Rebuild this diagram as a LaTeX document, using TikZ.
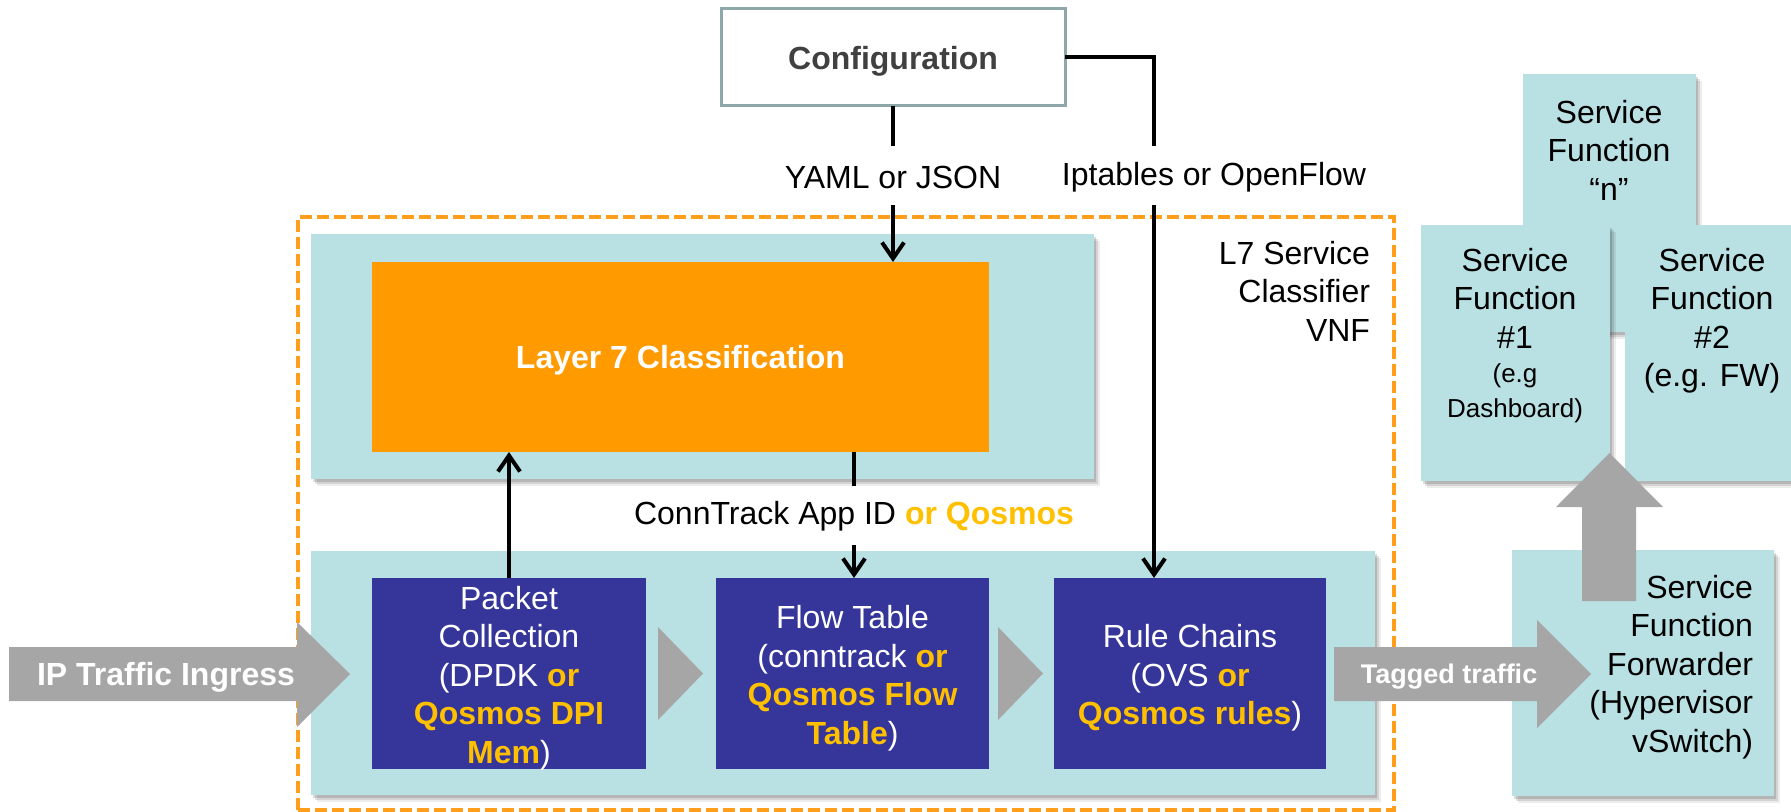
\documentclass[tikz,border=0pt]{standalone}
\usepackage{fontspec}
\setmainfont{Liberation Sans}
\usetikzlibrary{arrows.meta,fit,shadows}
\definecolor{teal1}{HTML}{B9E0E3}
\definecolor{navy1}{HTML}{35359A}
\definecolor{org1}{HTML}{FF9A00}
\definecolor{qy}{HTML}{FFC000}
\definecolor{gr1}{HTML}{A6A6A6}
\definecolor{cfgb}{HTML}{8EA8AA}
\definecolor{txt1}{HTML}{404040}
\definecolor{dash1}{HTML}{FF9E1B}
\newcommand\fmain{\fontsize{16}{19.25}\selectfont}
\newcommand\fsm{\fontsize{13}{16}\selectfont}
\newcommand\qb[1]{\textcolor{qy}{\bfseries #1}}
\begin{document}
\begin{tikzpicture}[x=0.5pt,y=-0.5pt,
  every node/.style={font=\fmain, inner sep=0pt, outer sep=0pt},
  tealbox/.style={fill=teal1,
    drop shadow={shadow xshift=1.2pt,shadow yshift=-1.5pt,opacity=.14,fill=black},
    drop shadow={shadow xshift=2.2pt,shadow yshift=-2.6pt,opacity=.11,fill=black},
    drop shadow={shadow xshift=3.2pt,shadow yshift=-3.6pt,opacity=.07,fill=black}},
  navybox/.style={fill=navy1},
  navytext/.style={text=white, align=center, yshift=-2.3pt},
  lbl/.style={fill=white},
  conn/.style={line width=2pt, black},
  arr/.style={conn, -{Straight Barb[length=8pt,width=11pt]}},
  blk/.style={fill=gr1},
  wlbl/.style={text=white, font=\fmain\bfseries},
]
\useasboundingbox (0,0) rectangle (1791,812);

% VNF dashed frame
\node[draw=dash1, line width=2pt, dash pattern=on 6pt off 2.5pt, fit={(298,217) (1394,810)}] (vnf) {};

% configuration
\node[draw=cfgb, line width=1.5pt, fill=white, fit={(721,9) (1065,106)}] (cfg) {};
\node[text=txt1, font=\fmain\bfseries] (cfgt) at ([yshift=-2pt]cfg.center) {Configuration};

% upper block
\node[tealbox, fit={(311,234) (1094,479)}] (l7box) {};
\node[fill=org1, fit={(372,262) (989,452)}] (l7) {};
\node[text=white, font=\fmain\bfseries] (l7t) at ([yshift=-1.5pt]l7.center) {Layer 7 Classification};

% lower block
\node[tealbox, fit={(311,551) (1375,795)}] (dp) {};
\node[navybox, fit={(372,578) (646,769)}] (pc) {};
\node[navytext] (pct) at (pc.center) {Packet\\Collection\\(DPDK \qb{or}\\\qb{Qosmos DPI}\\\qb{Mem})};
\node[navybox, fit={(716,578) (989,769)}] (ft) {};
\node[navytext] (ftt) at (ft.center) {Flow Table\\(conntrack \qb{or}\\\qb{Qosmos Flow}\\\qb{Table})};
\node[navybox, fit={(1054,578) (1326,769)}] (rc) {};
\node[navytext] (rct) at (rc.center) {Rule Chains\\(OVS \qb{or}\\\qb{Qosmos rules})};

% labels
\node[lbl, fit={(780,146) (1006,205)}] (yaml) {};
\node (yamlt) at ([yshift=-1pt]yaml.center) {YAML or JSON};
\node[lbl, fit={(1058,146) (1370,205)}] (ipt) {};
\node (iptt) at ([yshift=-1pt]ipt.center) {Iptables or OpenFlow};
\node[lbl, fit={(612,486) (1096,545)}] (ct) {};
\node (ctt) at ([yshift=-0.5pt]ct.center) {ConnTrack App ID \qb{or Qosmos}};
\node[align=right, anchor=east] (vnfl) at (1370,291) {L7 Service\\Classifier\\VNF};

% service functions
\node[tealbox, fit={(1523,74) (1696,332)}] (sfn) {};
\node[align=center] (sfnt) at (1609,150) {Service\\Function\\“n”};
\node[tealbox, fit={(1421,225) (1610,481)}] (sf1) {};
\node[align=center, anchor=north] (sf1t) at (1515,248) {Service\\Function\\\#1\\[-2pt]{\fsm (e.g}\\[-2pt]{\fsm Dashboard)}};
\node[tealbox, fit={(1625,225) (1800,481)}] (sf2) {};
\node[align=center, anchor=north] (sf2t) at (1712,248) {Service\\Function\\\#2\\(e.g. FW)};
\node[tealbox, fit={(1512,550) (1774,796)}] (sff) {};
\node[align=right, anchor=east] (sfft) at (1753,667) {Service\\Function\\Forwarder\\(Hypervisor\\vSwitch)};

% connectors
\coordinate (ipturn) at (1154,57.5);
\draw[conn] (cfg.south) -- (yaml.north -| cfg.south);
\draw[arr] (yaml.south -| cfg.south) -- (l7.north -| cfg.south);
\draw[conn] (cfg.east) -- (ipturn) -- (ipturn |- ipt.north);
\draw[arr] (ipturn |- ipt.south) -- (ipturn |- rc.north);
\draw[conn] (ct.north |- l7.south) -- (ct.north);
\draw[arr] (ct.south) -- (ct.south |- ft.north);
\draw[arr] (pc.north) -- (pc.north |- l7.south);

% block arrows
\fill[blk] (9,647) -- (297,647) -- (297,622) -- (350,674) -- (297,727) -- (297,701) -- (9,701) -- cycle;
\node[wlbl] (ingress) at (166,677) {IP Traffic Ingress};
\fill[blk] (658,627) -- (703,673.5) -- (658,720) -- cycle;
\fill[blk] (998,627) -- (1043,673.5) -- (998,720) -- cycle;
\fill[blk] (1334,647) -- (1537,647) -- (1537,620) -- (1591,674) -- (1537,728) -- (1537,701) -- (1334,701) -- cycle;
\node[text=white, font=\fontsize{13.5}{16}\selectfont\bfseries] (tagged) at (1449,677) {Tagged traffic};
\fill[blk] (1582,601) -- (1582,507) -- (1556,507) -- (1609.5,453) -- (1663,507) -- (1636,507) -- (1636,601) -- cycle;
\end{tikzpicture}
\end{document}
